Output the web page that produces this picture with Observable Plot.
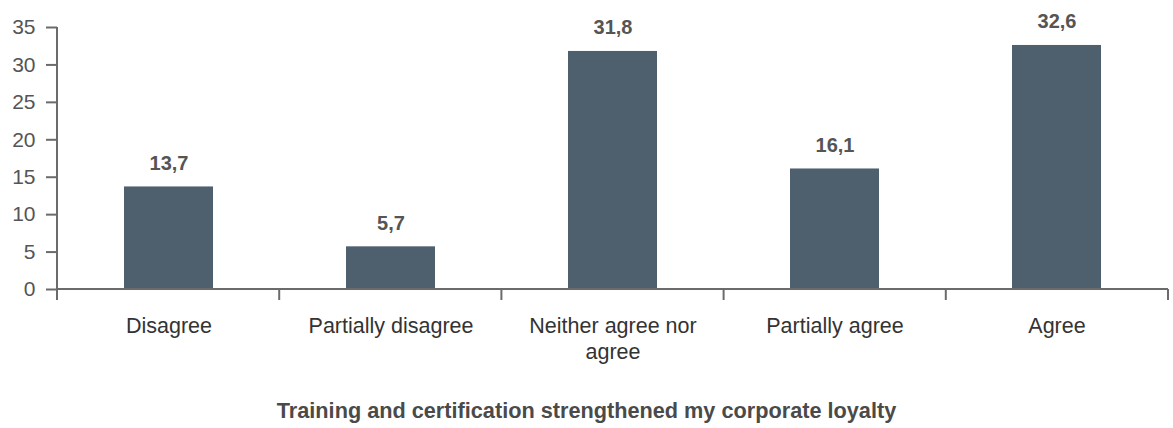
<!DOCTYPE html>
<html>
<head>
<meta charset="utf-8">
<script src="https://cdn.jsdelivr.net/npm/d3@7"></script>
<script src="https://cdn.jsdelivr.net/npm/@observablehq/plot@0.6"></script>
<style>
  html, body { margin: 0; padding: 0; background: #fff; }
  #chart svg { display: block; }
  #title { font-family: "Liberation Sans", Arial, sans-serif; font-weight: bold; font-size: 21.7px; color: #4a4a4a; text-align: center; height: 38px; line-height: 42px; width: 1173px; }
</style>
</head>
<body>
<div id="chart"></div>
<div id="title"></div>
<script>
const categories = ["Disagree", "Partially disagree", "Neither agree nor agree", "Partially agree", "Agree"];
const axisLabels = ["Disagree", "Partially disagree", "Neither agree nor\nagree", "Partially agree", "Agree"];
const values = [13.7, 5.7, 31.8, 16.1, 32.6];
const valueLabels = ["13,7", "5,7", "31,8", "16,1", "32,6"];
const yTicks = [0, 5, 10, 15, 20, 25, 30, 35];
const titleText = "Training and certification strengthened my corporate loyalty";

const data = categories.map((c, i) => ({cat: c, value: values[i], label: valueLabels[i], axis: axisLabels[i]}));

const W = 1173, H = 390;
const mL = 57, mR = 5, mT = 27, mB = 101;

function axisLines(index, scales, values, dims) {
  const g = d3.create("svg:g").attr("stroke", "#6b6b6b").attr("stroke-width", 2).attr("fill", "none");
  const y0 = scales.y(0);
  const left = dims.marginLeft, right = dims.width - dims.marginRight;
  g.append("line").attr("x1", left).attr("x2", left).attr("y1", dims.marginTop).attr("y2", y0 + 9);
  g.append("line").attr("x1", left).attr("x2", right).attr("y1", y0).attr("y2", y0);
  const n = categories.length;
  const step = (right - left) / n;
  for (let i = 0; i <= n; i++) {
    const xx = left + i * step;
    g.append("line").attr("x1", xx).attr("x2", xx).attr("y1", y0).attr("y2", y0 + 11);
  }
  return g.node();
}

const chart = Plot.plot({
  width: W,
  height: H,
  marginLeft: mL,
  marginRight: mR,
  marginTop: mT,
  marginBottom: mB,
  style: {fontFamily: "Liberation Sans, Arial, sans-serif", background: "#fff"},
  x: {domain: categories, paddingInner: 0.6, paddingOuter: 0.3, axis: null},
  y: {domain: [0, 35], ticks: yTicks, axis: null},
  marks: [
    Plot.barY(data, {x: "cat", y: "value", fill: "#4e5f6d"}),
    Plot.axisY({ticks: yTicks, tickSize: 11, tickPadding: 11, fontSize: 21, color: "#555", stroke: "#6b6b6b", strokeWidth: 2, label: null}),
    axisLines,
    Plot.text(data, {x: "cat", y: 0, text: "axis", lineAnchor: "top", dy: 25, fontSize: 21.5, lineHeight: 1.22, fill: "#333"}),
    Plot.text(data, {x: "cat", y: "value", text: "label", lineAnchor: "bottom", dy: -17, fontSize: 20, fontWeight: "bold", fill: "#555"})
  ]
});
document.getElementById("chart").appendChild(chart);
document.getElementById("title").textContent = titleText;
</script>
</body>
</html>
